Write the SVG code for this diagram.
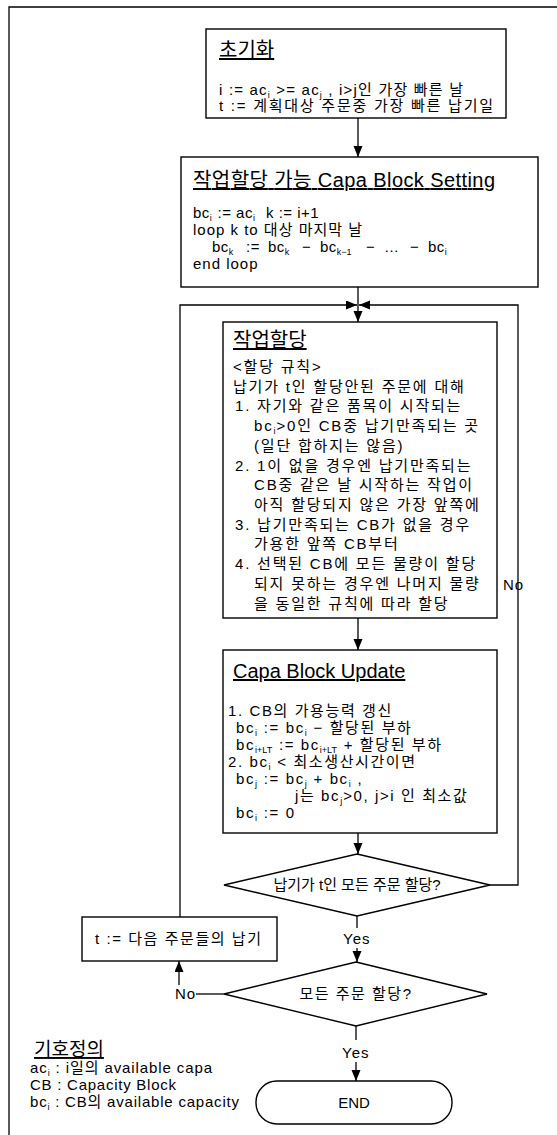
<svg xmlns="http://www.w3.org/2000/svg" width="557" height="1135" viewBox="0 0 557 1135">
<defs>
<marker id="ah" markerUnits="userSpaceOnUse" markerWidth="12" markerHeight="10" refX="11" refY="4.5" orient="auto">
<path d="M0,0 L11,4.5 L0,9 Z" fill="#000"/>
</marker>
<style>
text{font-family:"Liberation Sans","Noto Sans CJK KR",sans-serif;fill:#000}
.t{font-size:20px;text-decoration:underline}
.b{font-size:15px;letter-spacing:1px}
.b3{font-size:15px;letter-spacing:1.8px}
.b4{font-size:15px;letter-spacing:1.6px}
.d{font-size:15px;letter-spacing:0px}
.s{font-size:9px;letter-spacing:0px}
.box{fill:#fff;stroke:#000;stroke-width:1.4}
.ln{fill:none;stroke:#000;stroke-width:1.3}
</style>
</defs>
<rect width="557" height="1135" fill="#fff"/>
<path class="ln" d="M9,1135 V7 H557" stroke-width="1.8"/>

<g id="connectors">
<path class="ln" d="M358,118 V157" marker-end="url(#ah)"/>
<path class="ln" d="M358,287 V322" marker-end="url(#ah)"/>
<path class="ln" d="M180,917 V305 H357" marker-end="url(#ah)"/>
<path class="ln" d="M490,885 H518 V305 H359" marker-end="url(#ah)"/>
<path class="ln" d="M358,618 V650" marker-end="url(#ah)"/>
<path class="ln" d="M358,833 V854" marker-end="url(#ah)"/>
<path class="ln" d="M357,916 V928"/>
<path class="ln" d="M357,948 V962" marker-end="url(#ah)"/>
<path class="ln" d="M224,994 H196"/>
<path class="ln" d="M179,985 V961" marker-end="url(#ah)"/>
<path class="ln" d="M356,1026 V1040"/>
<path class="ln" d="M356,1062 V1081" marker-end="url(#ah)"/>
<text class="b" x="503" y="590">No</text>
<text class="b" x="343" y="944">Yes</text>
<text class="b" x="175" y="999">No</text>
<text class="b" x="342" y="1058">Yes</text>
</g>

<g id="init">
<rect class="box" x="206" y="29" width="300" height="89"/>
<text class="t" x="219" y="57">초기화</text>
<text class="b" x="219" y="95" textLength="245" lengthAdjust="spacing">i := ac<tspan class="s" dy="3">i</tspan><tspan dy="-3" dx="1"> &gt;= ac</tspan><tspan class="s" dy="3">j</tspan><tspan dy="-3" dx="1"> , i&gt;j인 가장 빠른 날</tspan></text>
<text class="b" x="219" y="111" textLength="275" lengthAdjust="spacing">t := 계획대상 주문중 가장 빠른 납기일</text>
</g>

<g id="setting">
<rect class="box" x="181" y="157" width="357" height="130"/>
<text class="t" x="193" y="187" textLength="302" lengthAdjust="spacing">작업할당 가능 Capa Block Setting</text>
<text class="b" x="193" y="218" style="letter-spacing:0.5px">bc<tspan class="s" dy="3">i</tspan><tspan dy="-3" dx="1"> := ac</tspan><tspan class="s" dy="3">i</tspan></text>
<text class="b" x="266" y="218" style="letter-spacing:0.5px">k := i+1</text>
<text class="b" x="193" y="235">loop k to 대상 마지막 날</text>
<text class="b" y="252" style="letter-spacing:0.5px"><tspan x="212">bc</tspan><tspan class="s" dy="3">k</tspan><tspan dy="-3" x="246">:=</tspan><tspan x="268">bc</tspan><tspan class="s" dy="3">k</tspan><tspan dy="-3" x="302">−</tspan><tspan x="320">bc</tspan><tspan class="s" dy="3">k−1</tspan><tspan dy="-3" x="366">−</tspan><tspan x="384">…</tspan><tspan x="410">−</tspan><tspan x="428">bc</tspan><tspan class="s" dy="3">i</tspan></text>
<text class="b" x="193" y="269">end loop</text>
</g>

<g id="assign">
<rect class="box" x="223" y="322" width="274" height="296"/>
<text class="t" x="233" y="347">작업할당</text>
<text class="b3" x="233" y="372">&lt;할당 규칙&gt;</text>
<text class="b3" x="233" y="392">납기가 t인 할당안된 주문에 대해</text>
<text class="b3" x="235" y="411">1. 자기와 같은 품목이 시작되는</text>
<text class="b3" x="254" y="431">bc<tspan class="s" dy="3">i</tspan><tspan dy="-3" dx="1">&gt;0인 CB중 납기만족되는 곳</tspan></text>
<text class="b3" x="254" y="451">(일단 합하지는 않음)</text>
<text class="b3" x="235" y="471">2. 1이 없을 경우엔 납기만족되는</text>
<text class="b3" x="254" y="490">CB중 같은 날 시작하는 작업이</text>
<text class="b3" x="254" y="510">아직 할당되지 않은 가장 앞쪽에</text>
<text class="b3" x="235" y="530">3. 납기만족되는 CB가 없을 경우</text>
<text class="b3" x="254" y="549">가용한 앞쪽 CB부터</text>
<text class="b3" x="235" y="569">4. 선택된 CB에 모든 물량이 할당</text>
<text class="b3" x="254" y="589">되지 못하는 경우엔 나머지 물량</text>
<text class="b3" x="254" y="609">을 동일한 규칙에 따라 할당</text>
</g>

<g id="update">
<rect class="box" x="223" y="650" width="274" height="183"/>
<text class="t" x="233" y="678">Capa Block Update</text>
<text class="b4" x="228" y="716">1. CB의 가용능력 갱신</text>
<text class="b4" x="236" y="733">bc<tspan class="s" dy="3">i</tspan><tspan dy="-3" dx="1"> := bc</tspan><tspan class="s" dy="3">i</tspan><tspan dy="-3" dx="1"> − 할당된 부하</tspan></text>
<text class="b4" x="236" y="750">bc<tspan class="s" dy="3">i+LT</tspan><tspan dy="-3" dx="1"> := bc</tspan><tspan class="s" dy="3">i+LT</tspan><tspan dy="-3" dx="1"> + 할당된 부하</tspan></text>
<text class="b4" x="228" y="767">2. bc<tspan class="s" dy="3">i</tspan><tspan dy="-3" dx="1"> &lt; 최소생산시간이면</tspan></text>
<text class="b4" x="236" y="784">bc<tspan class="s" dy="3">j</tspan><tspan dy="-3" dx="1"> := bc</tspan><tspan class="s" dy="3">j</tspan><tspan dy="-3" dx="1"> + bc</tspan><tspan class="s" dy="3">i</tspan><tspan dy="-3" dx="1"> ,</tspan></text>
<text class="b4" x="295" y="801">j는 bc<tspan class="s" dy="3">j</tspan><tspan dy="-3" dx="1">&gt;0, j&gt;i 인 최소값</tspan></text>
<text class="b4" x="236" y="818">bc<tspan class="s" dy="3">i</tspan><tspan dy="-3" dx="1"> := 0</tspan></text>
</g>

<g id="decision1">
<polygon class="box" points="357,854 490,885 357,916 224,885"/>
<text class="d" x="357" y="890" text-anchor="middle">납기가 t인 모든 주문 할당?</text>
</g>

<g id="next-t">
<rect class="box" x="82" y="917" width="195" height="44"/>
<text class="b" x="95" y="944" textLength="167" lengthAdjust="spacing">t := 다음 주문들의 납기</text>
</g>

<g id="decision2">
<polygon class="box" points="356,962 487,994 356,1026 224,994"/>
<text class="d" x="356" y="999" text-anchor="middle" style="letter-spacing:1.5px">모든 주문 할당?</text>
</g>

<g id="end">
<rect class="box" x="256" y="1081" width="196" height="43" rx="21" ry="21"/>
<text class="d" x="354" y="1108" text-anchor="middle">END</text>
</g>

<g id="legend">
<text class="t" x="34" y="1056" style="font-size:19px">기호정의</text>
<text class="b" x="30" y="1073" textLength="183" lengthAdjust="spacing">ac<tspan class="s" dy="3">i</tspan><tspan dy="-3" dx="1"> : i일의 available capa</tspan></text>
<text class="b" x="30" y="1090" textLength="147" lengthAdjust="spacing">CB : Capacity Block</text>
<text class="b" x="30" y="1107" textLength="210" lengthAdjust="spacing">bc<tspan class="s" dy="3">i</tspan><tspan dy="-3" dx="1"> : CB의 available capacity</tspan></text>
</g>
</svg>
